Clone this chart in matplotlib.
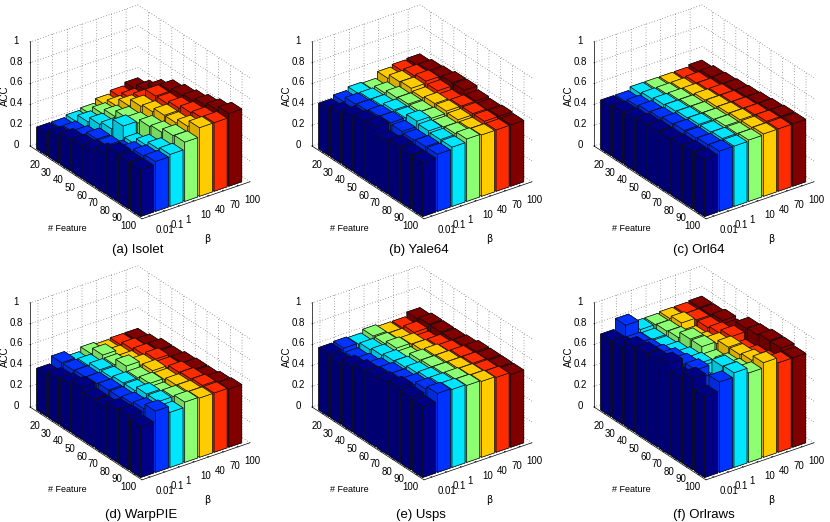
import numpy as np
import matplotlib
matplotlib.use("Agg")
import matplotlib.pyplot as plt
from mpl_toolkits.mplot3d import proj3d

plt.rcParams['font.family'] = ['Liberation Sans', 'DejaVu Sans']
plt.rcParams['grid.linestyle'] = (0, (1, 3))
plt.rcParams['grid.linewidth'] = 0.5
plt.rcParams['grid.color'] = '#505050'

features = ['20', '30', '40', '50', '60', '70', '80', '90', '100']
betas = ['0.01', '0.1', '1', '10', '40', '70', '100']
z_ticks = [0, 0.2, 0.4, 0.6, 0.8, 1]
z_labels = ['0', '0.2', '0.4', '0.6', '0.8', '1']

# rows: # Feature, columns: beta
isolet = [[.21, .21, .23, .25, .29, .32, .35],
          [.25, .25, .30, .33, .35, .37, .40],
          [.30, .28, .35, .38, .43, .44, .48],
          [.32, .33, .38, .44, .50, .55, .55],
          [.34, .33, .48, .46, .52, .55, .58],
          [.38, .36, .38, .50, .56, .58, .60],
          [.46, .42, .44, .52, .56, .61, .63],
          [.45, .46, .48, .56, .60, .63, .66],
          [.45, .48, .50, .57, .66, .66, .70]]
yale64 = [[.44, .47, .50, .49, .55, .57, .58],
          [.48, .52, .52, .53, .59, .60, .60],
          [.52, .53, .53, .56, .60, .62, .61],
          [.55, .55, .56, .57, .58, .60, .63],
          [.57, .56, .56, .57, .60, .58, .63],
          [.50, .55, .60, .58, .60, .60, .60],
          [.53, .54, .58, .57, .59, .60, .59],
          [.52, .55, .57, .58, .58, .60, .60],
          [.52, .55, .57, .60, .59, .59, .59]]
orl64 = [[.47, .47, .50, .50, .50, .50, .52],
         [.49, .50, .52, .52, .52, .53, .54],
         [.50, .52, .54, .54, .54, .54, .55],
         [.52, .53, .55, .55, .56, .56, .56],
         [.53, .55, .56, .56, .57, .57, .57],
         [.53, .56, .57, .57, .58, .58, .58],
         [.54, .56, .57, .58, .59, .59, .59],
         [.55, .57, .58, .58, .59, .60, .60],
         [.55, .58, .58, .59, .60, .60, .60]]
warppie = [[.40, .47, .42, .46, .44, .45, .45],
           [.44, .47, .47, .52, .46, .48, .47],
           [.46, .48, .50, .50, .48, .50, .50],
           [.50, .49, .50, .56, .52, .53, .50],
           [.46, .50, .52, .52, .54, .52, .52],
           [.46, .50, .52, .54, .53, .55, .53],
           [.51, .52, .56, .52, .55, .56, .53],
           [.52, .54, .56, .56, .56, .57, .55],
           [.49, .59, .53, .58, .57, .57, .56]]
usps = [[.60, .61, .60, .63, .61, .61, .65],
        [.58, .58, .62, .63, .62, .64, .67],
        [.63, .60, .64, .66, .65, .62, .67],
        [.66, .63, .66, .64, .66, .66, .67],
        [.67, .66, .67, .69, .69, .68, .68],
        [.69, .67, .69, .70, .70, .70, .70],
        [.72, .70, .71, .71, .71, .71, .70],
        [.70, .73, .73, .73, .72, .71, .70],
        [.68, .76, .75, .74, .73, .72, .70]]
orlraws = [[.73, .83, .74, .74, .75, .75, .76],
           [.74, .73, .72, .75, .78, .76, .76],
           [.81, .74, .72, .76, .72, .76, .78],
           [.83, .76, .74, .82, .74, .78, .76],
           [.83, .80, .76, .82, .80, .82, .85],
           [.88, .82, .78, .76, .84, .76, .86],
           [.81, .84, .76, .80, .84, .78, .88],
           [.88, .76, .90, .82, .86, .80, .88],
           [.78, .87, .91, .86, .91, .86, .86]]

titles = ['(a) Isolet', '(b) Yale64', '(c) Orl64', '(d) WarpPIE', '(e) Usps', '(f) Orlraws']
panels = [isolet, yale64, orl64, warppie, usps, orlraws]

# pixel position of the z=0 left corner, caption centre
origins = [(30, 146), (312, 146), (594, 146), (30, 407), (312, 407), (594, 407)]
captions = [(138, 250), (419, 250), (699, 250), (141, 515), (421, 515), (704, 515)]

top = [(0, 0, .53), (0, .2, 1), (0, .9, 1), (.55, 1, .45), (1, .8, 0), (1, .17, 0), (.5, 0, 0)]
W, H = 830, 522
wx, wy = 0.88, 0.88
xlim = (0.11, 9.68)
ylim = (0.46, 7.81)


def face_colors(c):
    c = np.array(c)
    dark = c * 0.85
    # -z, +z, -y, +y, -x, +x
    return [c, c, dark, dark, c, c]


def place(ax, x0, y0, width=220):
    # move the axes so the floor left corner lands on (x0, y0) and the floor is width px wide
    def pix(x, y, z):
        a, b, _ = proj3d.proj_transform(x, y, z, ax.get_proj())
        return ax.transData.transform((a, b))
    side = 320
    for i in range(2):
        ax.set_position([0, 0, side / W, side / H])
        fig.canvas.draw()
        p0 = pix(xlim[0], ylim[0], 0)
        p1 = pix(xlim[1], ylim[1], 0)
        if i == 0:
            side = side * width / (p1[0] - p0[0])
    ax.set_position([(x0 - p0[0]) / W, ((H - y0) - p0[1]) / H, side / W, side / H])


fig = plt.figure(figsize=(W / 100, H / 100), dpi=100)

for k, data in enumerate(panels):
    ax = fig.add_axes([0, 0, 320 / W, 320 / H], projection='3d', proj_type='ortho',
                      computed_zorder=False)
    ax.patch.set_alpha(0)
    ax.view_init(elev=28.2, azim=-36)
    ax.set_box_aspect((190.5, 133.5, 118))

    n = 0
    for i in range(len(features)):
        for j in range(len(betas) - 1, -1, -1):
            ax.bar3d(i + 1 - wx / 2, j + 1 - wy / 2, 0, wx, wy, data[i][j],
                     color=face_colors(top[j]), edgecolor='#101010', linewidth=0.45,
                     shade=False, zorder=n)
            n += 1

    ax.set_xlim(*xlim, view_margin=0)
    ax.set_ylim(*ylim, view_margin=0)
    ax.set_zlim(0, 1, view_margin=0)
    ax.set_xticks(range(1, 10))
    ax.set_xticklabels(features, fontsize=7)
    ax.set_yticks(range(1, 8))
    ax.set_yticklabels(betas, fontsize=7, ha='left')
    ax.set_zticks(z_ticks)
    ax.set_zticklabels(z_labels, fontsize=7, va='center_baseline')
    ax.tick_params(axis='x', pad=-3)
    ax.tick_params(axis='y', pad=-3)
    ax.tick_params(axis='z', pad=-2)
    ax.zaxis.set_ticks_position('lower')

    for axis in (ax.xaxis, ax.yaxis, ax.zaxis):
        axis.set_pane_color((1, 1, 1, 0))
        axis.pane.set_edgecolor((1, 1, 1, 0))
        axis.line.set_linewidth(0.5)
        axis._axinfo['tick']['inward_factor'] = 0
        axis._axinfo['tick']['outward_factor'] = 0.1
        axis._axinfo['tick']['linewidth'] = {True: 0.5, False: 0.5}

    place(ax, *origins[k])

    ox, oy = origins[k]
    fig.text((ox + 37) / W, 1 - (oy + 83) / H, '# Feature', fontsize=6.5, ha='center', va='center')
    fig.text((ox + 177) / W, 1 - (oy + 93) / H, 'β', fontsize=7, ha='center', va='center',
             family=['DejaVu Sans'])
    fig.text((ox - 25) / W, 1 - (oy - 50) / H, 'ACC', fontsize=7, rotation=90, ha='center', va='center')
    fig.text(captions[k][0] / W, 1 - captions[k][1] / H, titles[k], fontsize=9.5, ha='center', va='center')

fig.savefig('out.png', dpi=100)
